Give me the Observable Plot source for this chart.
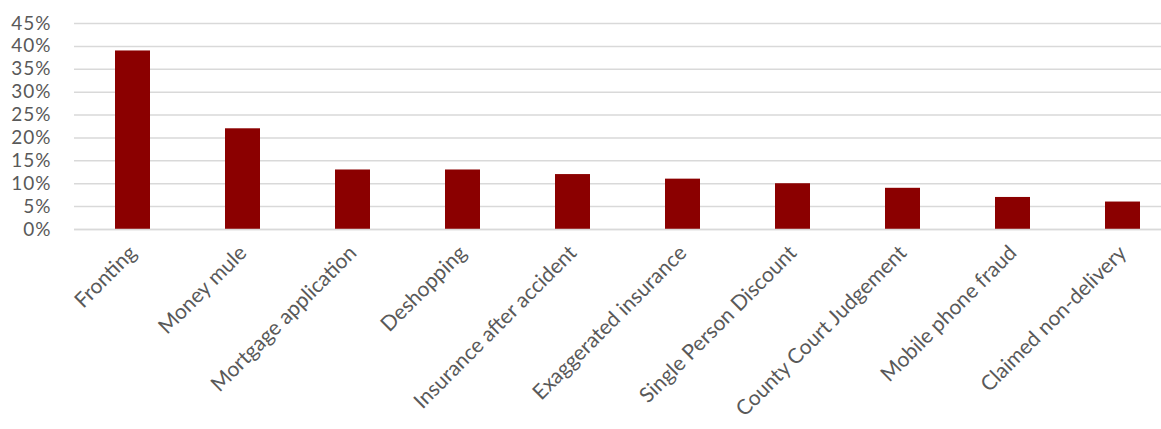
<!DOCTYPE html>
<html>
<head>
<meta charset="utf-8">
<script src="https://cdn.jsdelivr.net/npm/d3@7"></script>
<script src="https://cdn.jsdelivr.net/npm/@observablehq/plot@0.6"></script>
<style>
  html, body { margin: 0; padding: 0; background: #fff; }
  #chart svg { display: block; }
  #chart g[aria-label="y-axis tick label"] text { letter-spacing: 1px; }
</style>
</head>
<body>
<div id="chart"></div>
<script>
const categories = ["Fronting", "Money mule", "Mortgage application", "Deshopping", "Insurance after accident", "Exaggerated insurance", "Single Person Discount", "County Court Judgement", "Mobile phone fraud", "Claimed non-delivery"];
const values = [0.39, 0.22, 0.13, 0.13, 0.12, 0.11, 0.10, 0.09, 0.07, 0.06];
const yTicks = [0, 0.05, 0.10, 0.15, 0.20, 0.25, 0.30, 0.35, 0.40, 0.45];

const data = categories.map((c, i) => ({category: c, value: values[i]}));

const chart = Plot.plot({
  width: 1161,
  height: 429,
  marginLeft: 74,
  marginRight: 0,
  marginTop: 23,
  marginBottom: 200,
  style: {fontFamily: "Lato, sans-serif", fontSize: "19px", color: "#595959", background: "#fff"},
  x: {domain: categories, range: [74, 1180], paddingInner: 0.684, paddingOuter: 0.342},
  y: {domain: [0, 0.45]},
  marks: [
    Plot.gridY(yTicks, {stroke: "#d9d9d9", strokeOpacity: 1, strokeWidth: 1.5}),
    Plot.barY(data, {x: "category", y: "value", fill: "#8b0000"}),
    Plot.ruleY([0], {stroke: "#d9d9d9", strokeWidth: 1.5}),
    Plot.axisY(yTicks, {tickFormat: d => Math.round(d * 100) + "%", label: null, tickSize: 0, tickPadding: 23, fontSize: 19}),
    Plot.axisX({label: null, tickSize: 0, tickRotate: -45, tickPadding: 20, fontSize: 21})
  ]
});
document.getElementById("chart").appendChild(chart);
</script>
</body>
</html>
